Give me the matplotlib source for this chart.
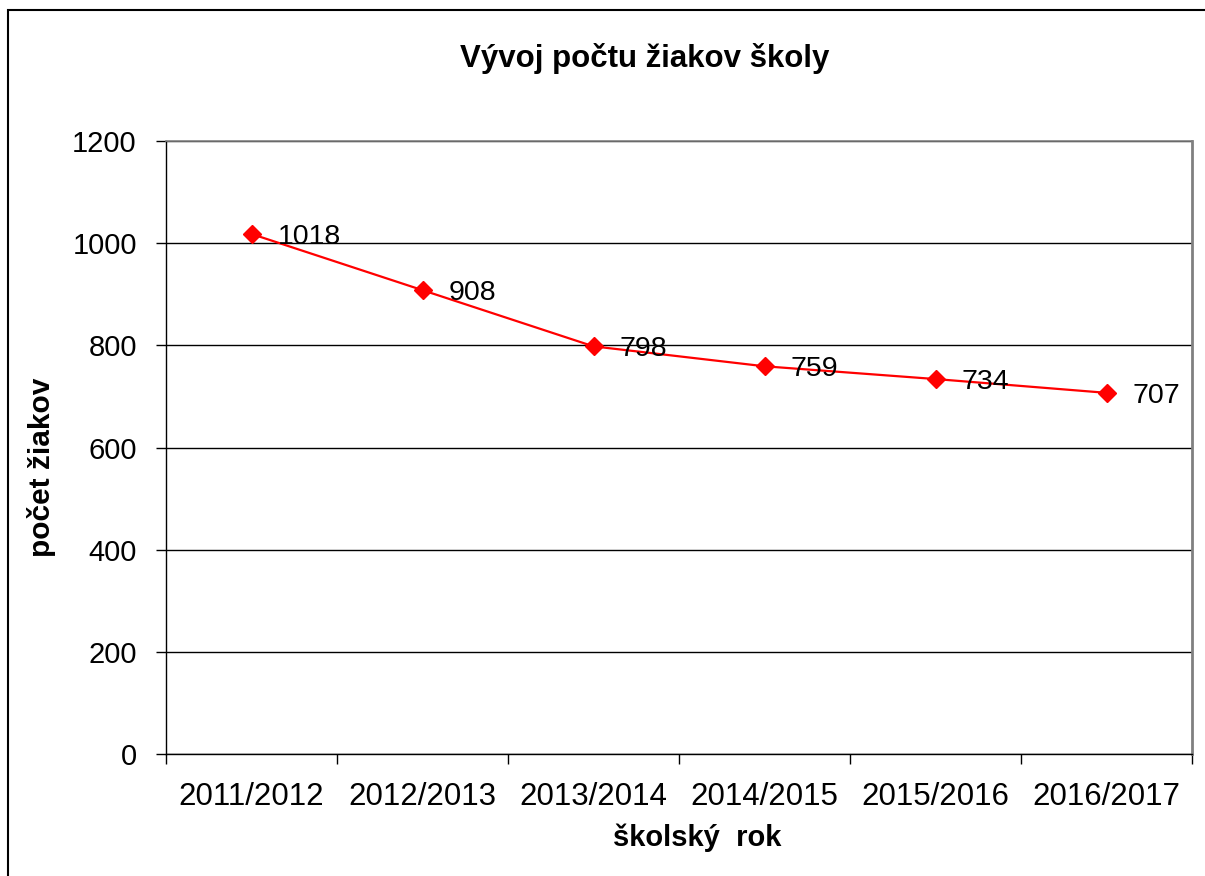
import matplotlib.pyplot as plt
from matplotlib.patches import Rectangle

plt.rcParams['font.family'] = ['Liberation Sans', 'DejaVu Sans']

years = ["2011/2012", "2012/2013", "2013/2014", "2014/2015", "2015/2016", "2016/2017"]
students = [1018, 908, 798, 759, 734, 707]
y_ticks = [0, 200, 400, 600, 800, 1000, 1200]

fig = plt.figure(figsize=(12.05, 8.76), dpi=100)
ax = fig.add_axes([166/1205, 1 - 754/876, (1192 - 166)/1205, (754 - 141)/876])

# outer chart frame (clipped at right/bottom like the original)
fig.patches.append(Rectangle((8/1205, -0.1), 1.2, 1 - 10/876 + 0.1, transform=fig.transFigure,
                             fill=False, edgecolor="black", linewidth=1.5))

xs = list(range(len(years)))
ax.plot(xs, students, color="#ff0000", linewidth=1.6, marker="D", markersize=9, zorder=3)
for x, v in zip(xs, students):
    ax.annotate(str(v), (x, v), xytext=(19, -2), textcoords="offset points",
                ha="left", va="center", fontsize=20.5, color="black")

ax.set_xlim(-0.5, len(years) - 0.5)
ax.set_ylim(0, 1200)
ax.set_yticks(y_ticks)
ax.yaxis.grid(True, color="black", linewidth=1)
ax.set_axisbelow(True)

# category labels centered, ticks on boundaries
ax.set_xticks([i + 0.5 for i in range(-1, len(years))])
ax.set_xticklabels([])
ax.set_xticks(xs, minor=True)
ax.set_xticklabels(years, minor=True, fontsize=22.5)
ax.tick_params(axis="x", which="minor", length=0, pad=20)
ax.tick_params(axis="x", which="major", length=7, width=1, direction="out")
ax.tick_params(axis="y", length=7, width=1, direction="out", labelsize=21, pad=14)

for s in ["left", "bottom"]:
    ax.spines[s].set_color("black")
    ax.spines[s].set_linewidth(1)
ax.spines["right"].set_color("#808080")
ax.spines["right"].set_linewidth(2)
ax.spines["top"].set_color("#808080")
ax.spines["top"].set_linewidth(1.2)

fig.text(645/1205, 1 - 58/876, "Vývoj počtu žiakov školy", ha="center", va="center",
         fontsize=22.5, fontweight="bold")
fig.text(697/1205, 1 - 838/876, "školský  rok", ha="center", va="center",
         fontsize=21, fontweight="bold")
fig.text(42/1205, 1 - 467/876, "počet žiakov", ha="center", va="center",
         fontsize=21.5, fontweight="bold", rotation=90)

fig.savefig("out.png", dpi=100)
